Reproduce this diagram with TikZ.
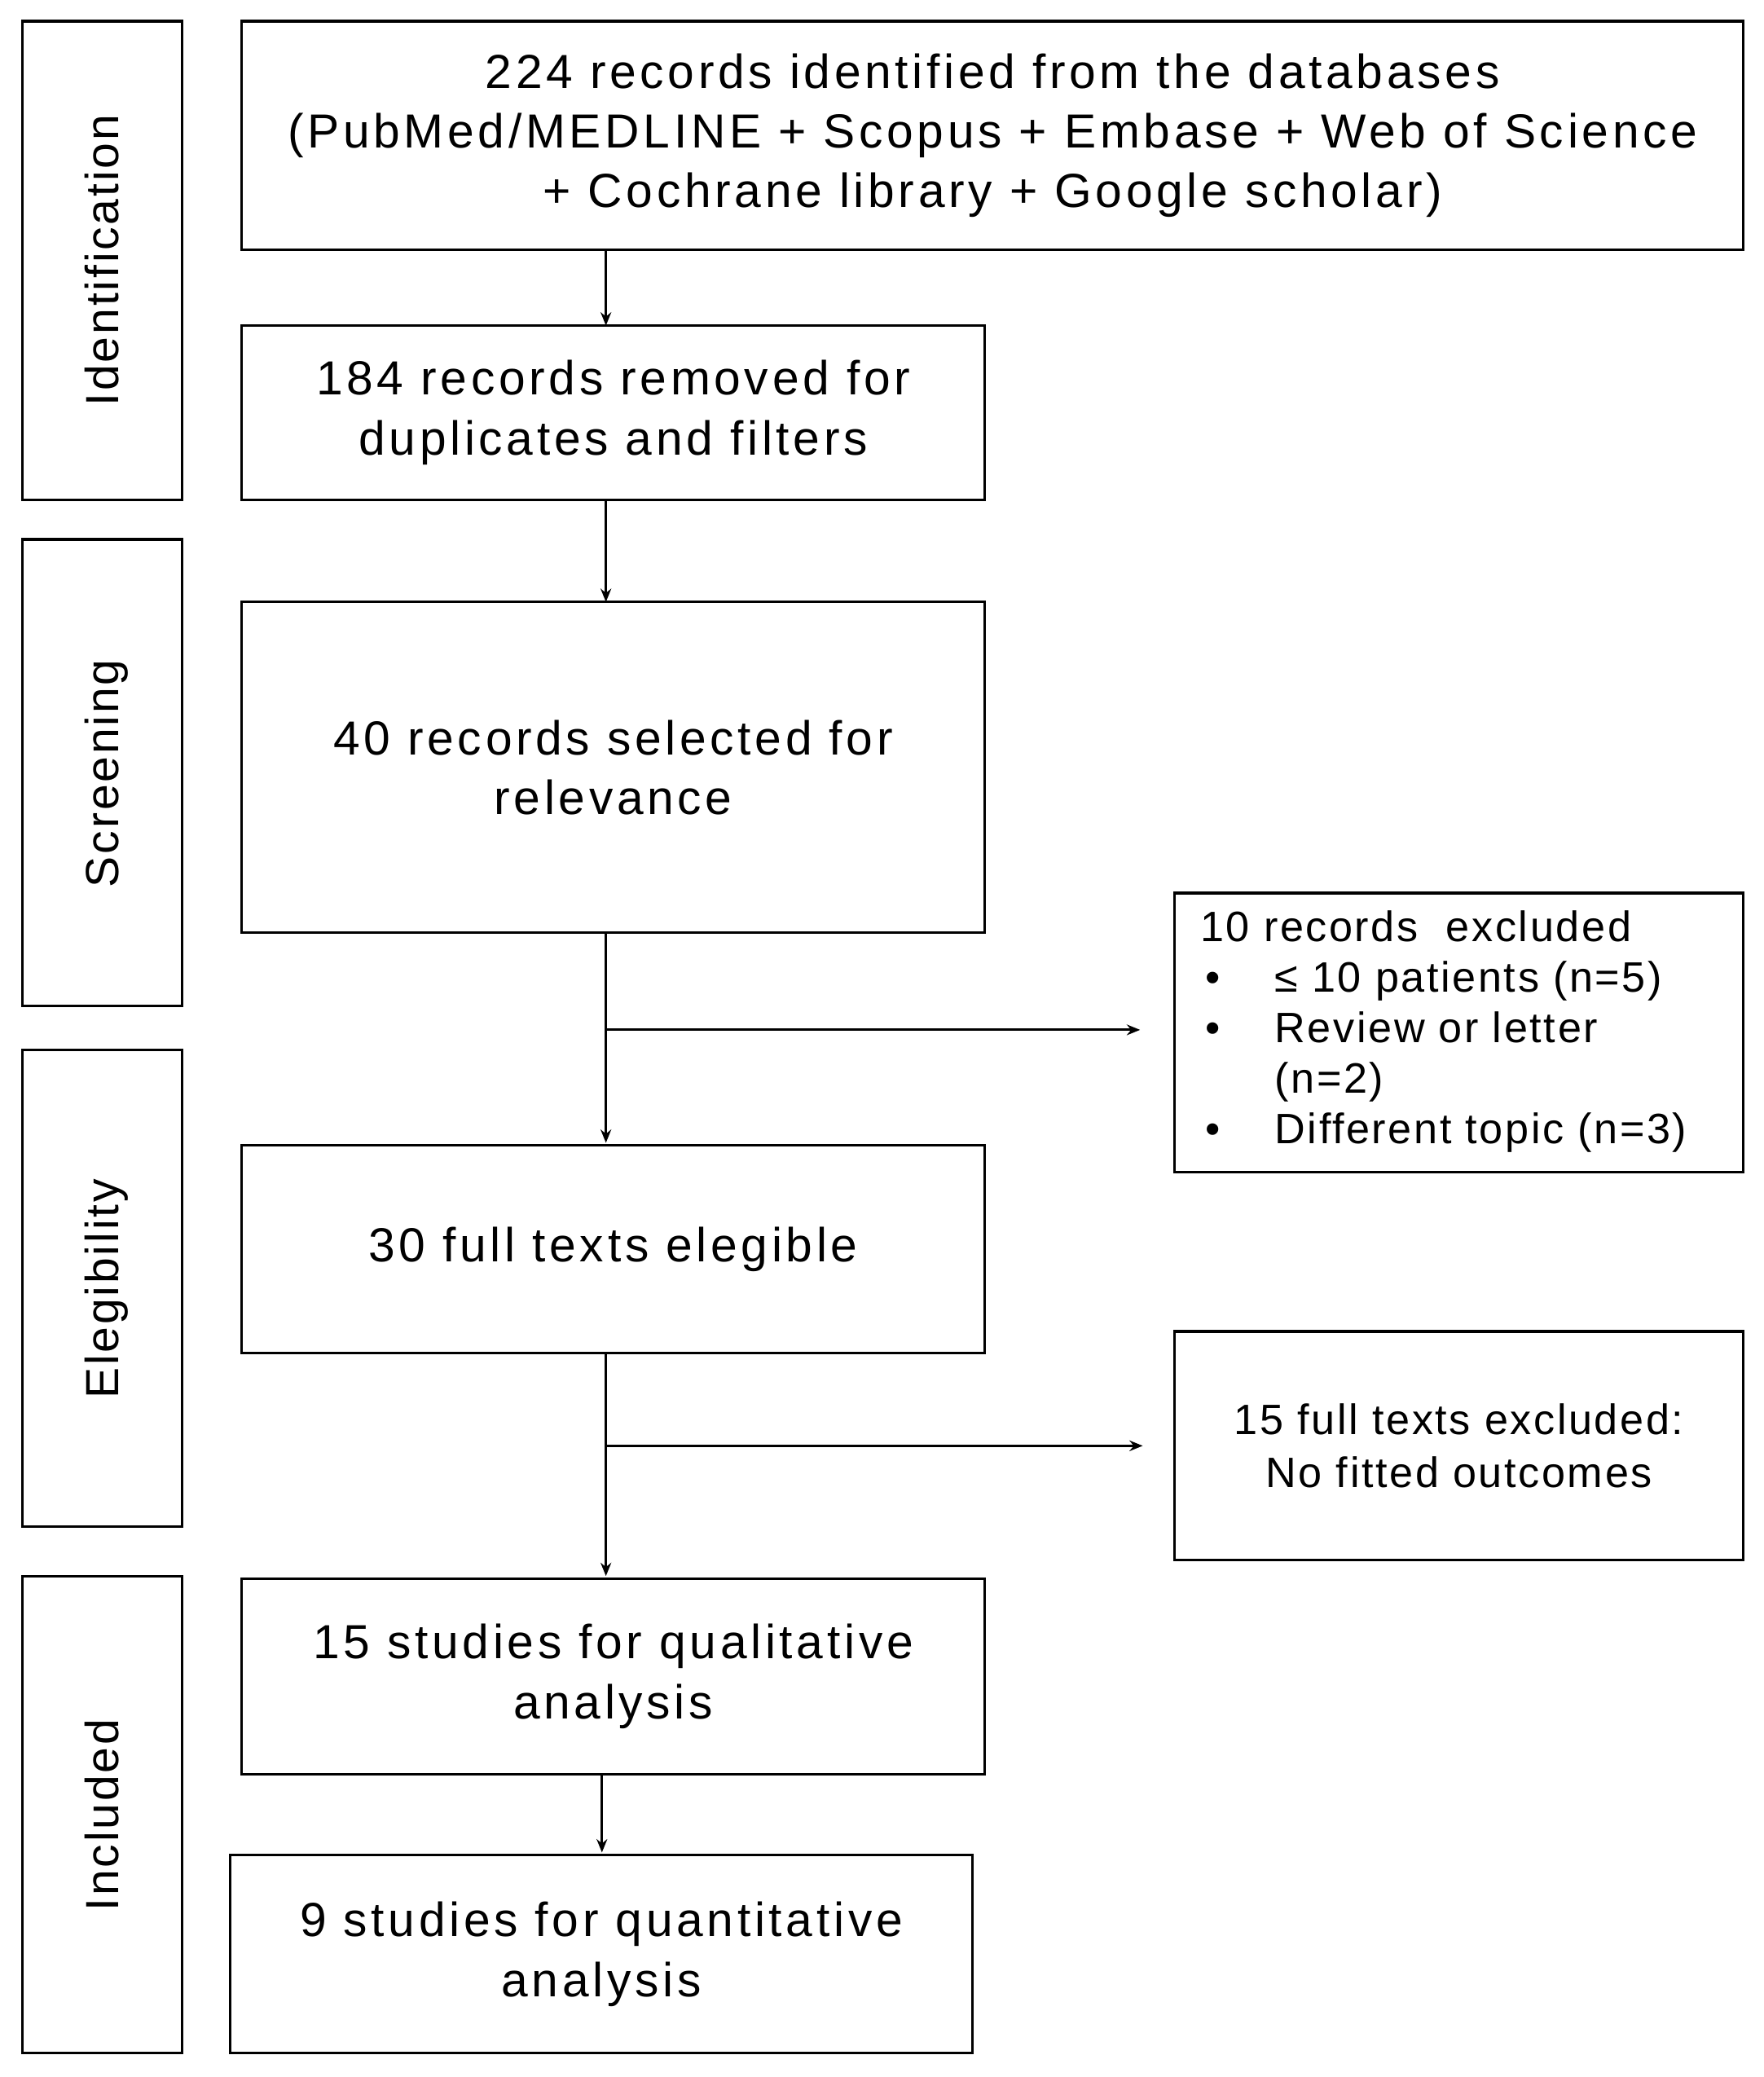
\documentclass[tikz,border=0pt]{standalone}
\usepackage{fontspec}
\setmainfont{Liberation Sans}
\newfontfamily\spacedA[LetterSpace=8]{Liberation Sans}
\newfontfamily\spacedB[LetterSpace=5]{Liberation Sans}
\usetikzlibrary{arrows.meta}
\begin{document}
\begin{tikzpicture}[x=0.5pt,y=-0.5pt,
 box/.style={draw,line width=1pt,inner sep=0pt},
 txt/.style={align=center,font=\spacedA\fontsize{18}{22.5}\selectfont},
 small/.style={font=\spacedB\fontsize{16}{20}\selectfont},
 side/.style={rotate=90,font=\spacedB\fontsize{17.5}{20}\selectfont},
 arr/.style={-{Stealth[length=5pt,width=4pt]},line width=0.9pt}]
\useasboundingbox (0,0) rectangle (1327,1563);
% side boxes
\draw[box] (17,16) rectangle (137,376); \node[side] (l1) at (77,196) {Identification};
\draw[box] (17,406) rectangle (137,757); \node[side] (l2) at (80,582) {Screening};
\draw[box] (17,790) rectangle (137,1149); \node[side] (l3) at (80,970) {Elegibility};
\draw[box] (17,1186) rectangle (137,1545); \node[side] (l4) at (77,1366) {Included};
% main boxes
\node[box,minimum width=565pt,minimum height=86pt,txt] (b1) at (747,102) {224 records identified from the databases\\(PubMed/MEDLINE + Scopus + Embase + Web of Science\\+ Cochrane library + Google scholar)};
\node[box,minimum width=279.5pt,minimum height=65.5pt,txt] (b2) at (461.5,310.5) {184 records removed for\\duplicates and filters};
\node[box,minimum width=279.5pt,minimum height=124.5pt,txt] (b3) at (461.5,577.5) {40 records selected for\\relevance};
\node[box,minimum width=279.5pt,minimum height=78pt,txt] (b4) at (461.5,940) {30 full texts elegible};
\node[box,minimum width=279.5pt,minimum height=73.5pt,txt] (b5) at (461.5,1261.5) {15 studies for qualitative\\analysis};
\node[box,minimum width=279.5pt,minimum height=74.5pt,txt] (b6) at (452.5,1470.5) {9 studies for quantitative\\analysis};
\node[box,minimum width=214pt,minimum height=105pt] (e1) at (1098,777) {};
\node[anchor=north west,inner sep=0pt,small] (e1t) at (903,680) {%
\begin{tabular}{@{}p{28pt}@{}l@{}}
\multicolumn{2}{@{}l}{10 records\ \ excluded}\\[-1pt]
\hspace{2pt}\textbullet & ≤ 10 patients (n=5)\\[-1pt]
\hspace{2pt}\textbullet & Review or letter\\[-1pt]
 & (n=2)\\[-1pt]
\hspace{2pt}\textbullet & Different topic (n=3)
\end{tabular}};
\node[box,minimum width=214pt,minimum height=86pt] (e2) at (1098,1088) {};
\node[small,align=center] (e2t) at (1098,1088) {15 full texts excluded:\\No fitted outcomes};
% arrows
\draw[arr] (456,188) -- (456,245);
\draw[arr] (456,376) -- (456,453);
\draw[arr] (456,702) -- (456,860);
\coordinate (j1) at (456,775); \coordinate (t1) at (858,775);
\draw[arr] (j1) -- (t1);
\draw[arr] (456,1018) -- (456,1186);
\coordinate (j2) at (456,1088); \coordinate (t2) at (860,1088);
\draw[arr] (j2) -- (t2);
\draw[arr] (453,1335) -- (453,1394);
\end{tikzpicture}
\end{document}
